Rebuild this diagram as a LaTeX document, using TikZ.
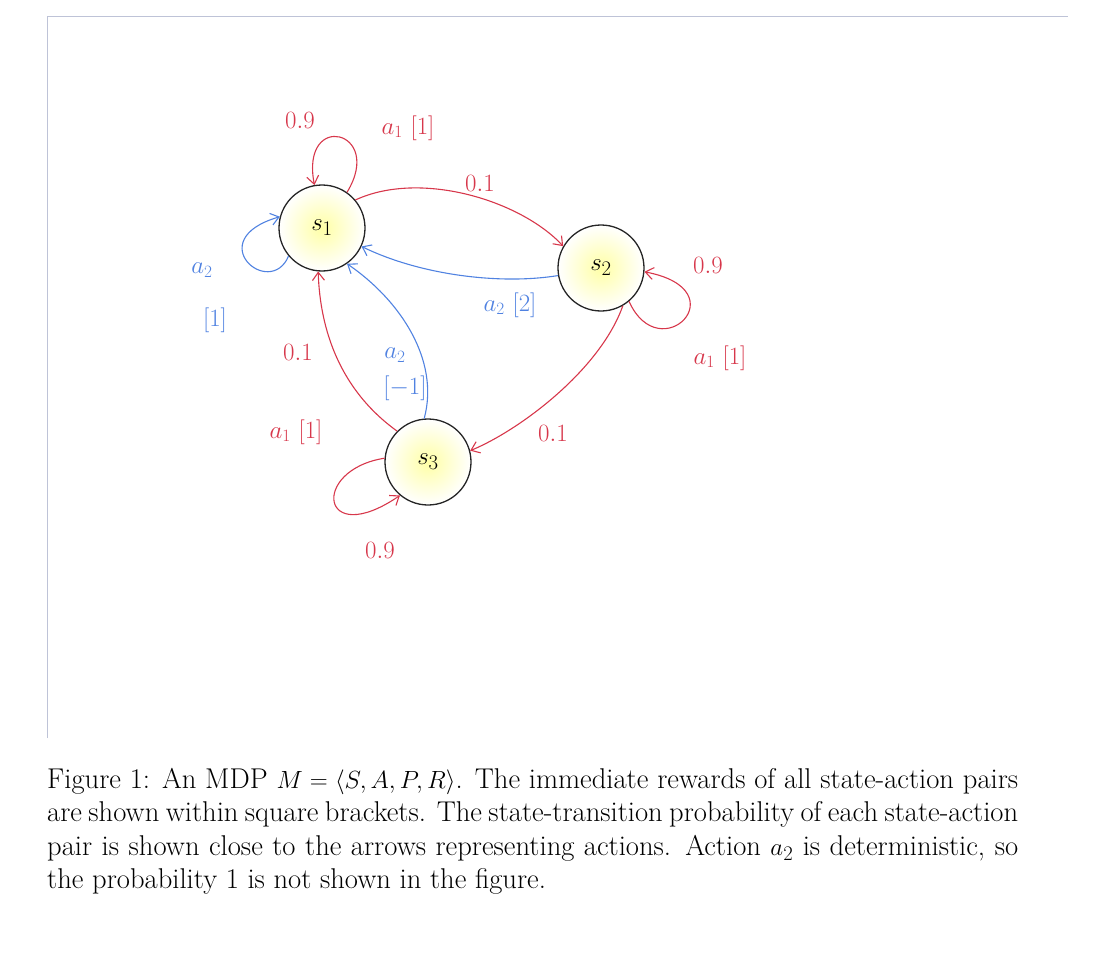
\documentclass[tikz,border=0pt]{standalone}
\usetikzlibrary{arrows.meta}
\definecolor{rd}{RGB}{215,55,75}
\definecolor{bl}{RGB}{80,130,225}
\definecolor{fr}{RGB}{190,195,215}
\begin{document}
\begin{tikzpicture}[x=1pt,y=-1pt,
  st/.style={circle,draw=black!85,line width=1.3pt,minimum size=86pt,inner color=yellow!35,outer color=white,font=\fontsize{30}{30}\selectfont},
  re/.style={rd,line width=1.1pt,-{Straight Barb[length=8pt,width=12pt]}},
  be/.style={bl,line width=1.1pt,-{Straight Barb[length=8pt,width=12pt]}},
  rl/.style={rd,font=\fontsize{26}{26}\selectfont},
  bll/.style={bl,font=\fontsize{26}{26}\selectfont}]
\useasboundingbox (0,0) rectangle (1103,979);
\draw[fr,line width=0.8pt] (47,738) -- (47,16) -- (1068,16);
\node[st] (s1) at (322,228) {$s_1$};
\node[st] (s2) at (601,268) {$s_2$};
\node[st] (s3) at (428,462) {$s_3$};
% s1 top loop
\draw[re] (s1.55) .. controls (385,130) and (300,110) .. (s1.100);
\node[rl] (l1) at (300,120) {$0.9$};
\node[rl] (l2) at (408,128) {$a_1\ [1]$};
% s1->s2
\draw[re] (s1.40) .. controls (420,170) and (520,200) .. (s2.150);
\node[rl] (l3) at (480,183) {$0.1$};
% s2->s1
\draw[be] (s2.190) .. controls (500,285) and (420,275) .. (s1.-25);
\node[bll] (l4) at (510,305) {$a_2\ [2]$};
% s1 left loop
\draw[be] (s1.220) .. controls (270,300) and (200,240) .. (s1.165);
\node[bll] (l5) at (202,270) {$a_2$};
\node[bll] (l6) at (215,320) {$[1]$};
% s2 loop
\draw[re] (s2.-50) .. controls (660,370) and (740,290) .. (s2.-5);
\node[rl] (l7) at (708,265) {$0.9$};
\node[rl] (l8) at (720,358) {$a_1\ [1]$};
% s2->s3
\draw[re] (s2.-60) .. controls (600,370) and (520,430) .. (s3.15);
\node[rl] (l9) at (553,433) {$0.1$};
% s3->s1 red
\draw[re] (s3.135) .. controls (340,390) and (320,330) .. (s1.-95);
\node[rl] (l10) at (298,352) {$0.1$};
\node[rl] (l11) at (296,432) {$a_1\ [1]$};
% s3->s1 blue
\draw[be] (s3.95) .. controls (440,360) and (400,300) .. (s1.-55);
\node[bll] (l12) at (395,355) {$a_2$};
\node[bll] (l13) at (405,388) {$[-1]$};
% s3 loop
\draw[re] (s3.175) .. controls (310,470) and (320,550) .. (s3.-130);
\node[rl] (l14) at (380,550) {$0.9$};
\node[text width=971pt,align=justify,anchor=north west,inner sep=0pt,font=\fontsize{28.6}{33.5}\selectfont] (cap) at (47,768)
{Figure 1: An MDP $M=\langle S,A,P,R\rangle$. The immediate rewards of all state-action pairs are shown within square brackets. The state-transition probability of each state-action pair is shown close to the arrows representing actions. Action $a_2$ is deterministic, so the probability 1 is not shown in the figure.};
\end{tikzpicture}
\end{document}
